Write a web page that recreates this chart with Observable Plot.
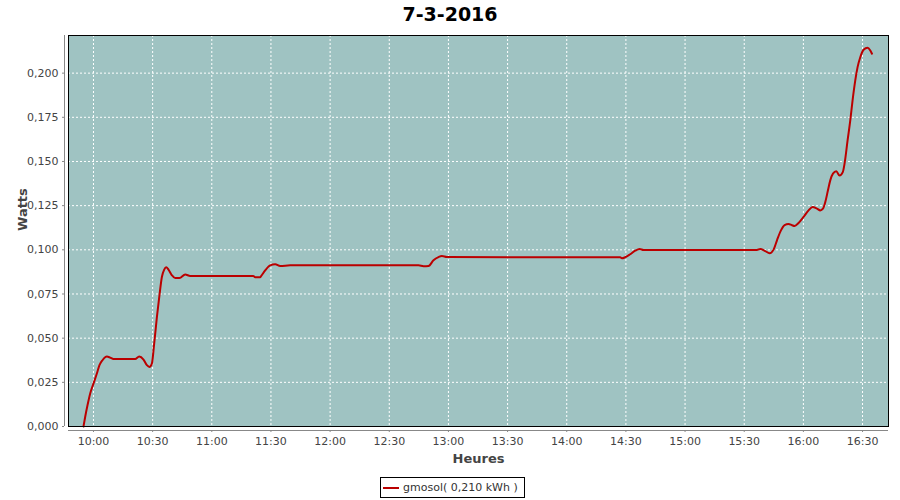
<!DOCTYPE html>
<html>
<head>
<meta charset="utf-8">
<script src="https://cdn.jsdelivr.net/npm/d3@7"></script>
<script src="https://cdn.jsdelivr.net/npm/@observablehq/plot@0.6"></script>
<style>
  body { margin: 0; background: #fff; font-family: "DejaVu Sans", sans-serif; }
  #wrap { position: relative; width: 900px; height: 500px; }
  #title { height: 30px; box-sizing: border-box; padding-top: 3px; line-height: 22px; font-size: 19px; font-weight: bold; text-align: center; color: #000; }
  #chart svg { display: block; }
  #legend { position: absolute; left: 380px; top: 477px; width: 145px; height: 21px; box-sizing: border-box; border: 1px solid #000; font-size: 11px; color: #333; display: flex; align-items: center; white-space: nowrap; }
  #legend svg { display: block; margin-left: 2px; margin-right: 4px; }
</style>
</head>
<body>
<div id="wrap">
  <div id="title">7-3-2016</div>
  <div id="chart"></div>
  <div id="legend"><svg width="16" height="4"><line x1="0" x2="16" y1="2" y2="2" stroke="#bb0000" stroke-width="2"/></svg><span id="legendText"></span></div>
</div>
<script>
// ---- data ----
const times = [
  "09:54:56","09:55:47","09:56:58","09:58:20","10:00:00","10:01:43","10:03:02","10:04:34","10:06:48","10:08:28",
  "10:10:08","10:21:09","10:23:11","10:25:22","10:27:05","10:28:24","10:29:37","10:30:47","10:32:10","10:33:28",
  "10:34:41","10:35:52","10:36:52","10:38:02","10:39:46","10:41:26","10:43:37","10:46:31","10:49:02","11:21:00",
  "11:22:00","11:24:30","11:25:04","11:27:05","11:29:37","11:32:10","11:34:41","11:39:46","12:44:50","12:47:22",
  "12:49:54","12:52:26","12:54:58","12:56:42","12:59:14","14:27:06","14:27:58","14:29:38","14:32:10","14:34:43",
  "14:36:55","14:38:56","15:36:28","15:38:08","15:40:40","15:42:51","15:44:53","15:46:37","15:48:38","15:50:28",
  "15:52:29","15:54:13","15:55:32","15:57:34","16:00:05","16:02:38","16:04:40","16:06:53","16:08:34","16:09:56",
  "16:11:06","16:12:28","16:13:38","16:15:00","16:16:41","16:18:21","16:19:59","16:20:53","16:22:25","16:23:47",
  "16:24:57","16:26:19","16:27:29","16:28:51","16:30:32","16:32:34","16:33:56","16:34:47"
];
const watts = [
  0.0000,0.0054,0.0120,0.0187,0.0243,0.0300,0.0347,0.0375,0.0396,0.0390,
  0.0382,0.0382,0.0396,0.0379,0.0347,0.0337,0.0356,0.0469,0.0620,0.0743,
  0.0846,0.0888,0.0901,0.0888,0.0856,0.0840,0.0840,0.0860,0.0852,0.0852,
  0.0845,0.0845,0.0852,0.0884,0.0912,0.0918,0.0908,0.0912,0.0912,0.0907,
  0.0908,0.0941,0.0959,0.0965,0.0959,0.0958,0.0952,0.0958,0.0975,0.0995,
  0.1005,0.0999,0.0999,0.1005,0.0993,0.0980,0.1001,0.1054,0.1110,0.1140,
  0.1146,0.1139,0.1135,0.1152,0.1186,0.1223,0.1242,0.1233,0.1223,0.1233,
  0.1270,0.1337,0.1393,0.1431,0.1444,0.1421,0.1440,0.1488,0.1619,0.1732,
  0.1846,0.1959,0.2034,0.2090,0.2132,0.2144,0.2128,0.2110
];
const xTickLabels = ["10:00","10:30","11:00","11:30","12:00","12:30","13:00","13:30","14:00","14:30","15:00","15:30","16:00","16:30"];
const yTicks = [0, 0.025, 0.05, 0.075, 0.1, 0.125, 0.15, 0.175, 0.2];
const xRange = ["09:47:20", "16:43:10"];
const yMax = 0.2213;
const titleText = "7-3-2016";
const seriesName = "gmosol( 0,210 kWh )";
const xLabel = "Heures";
const yLabel = "Watts";

// ---- build ----
const parse = s => {
  const [h, m, sec] = s.split(":").map(Number);
  return new Date(Date.UTC(2016, 2, 7, h, m, sec || 0));
};
const data = times.map((t, i) => ({time: parse(t), watts: watts[i]}));
const xTicks = xTickLabels.map(parse);
const xDomain = xRange.map(parse);
const fmtY = d => d3.format(".3f")(d).replace(".", ",");

document.getElementById("title").textContent = titleText;
document.getElementById("legendText").textContent = seriesName;

const chart = Plot.plot({
  width: 900,
  height: 440,
  marginTop: 5,
  marginBottom: 44,
  marginLeft: 68,
  marginRight: 12,
  style: {fontFamily: "DejaVu Sans", fontSize: "11px", color: "#444", background: "white"},
  x: {type: "utc", domain: xDomain},
  y: {domain: [0, yMax]},
  marks: [
    Plot.frame({fill: "#9fc3c2"}),
    Plot.gridX(xTicks, {stroke: "white", strokeOpacity: 1, strokeDasharray: "2,2"}),
    Plot.gridY(yTicks, {stroke: "white", strokeOpacity: 1, strokeDasharray: "2,2"}),
    Plot.line(data, {x: "time", y: "watts", stroke: "#bb0000", strokeWidth: 2, curve: "monotone-x"}),
    Plot.frame({stroke: "black"}),
    Plot.ruleX([xDomain[0]], {dx: -4, stroke: "#888"}),
    Plot.ruleY([0], {dy: 4, stroke: "#888"}),
    Plot.axisX(xTicks, {tickFormat: d3.utcFormat("%H:%M"), tickSize: 2, tickPadding: 5, dy: 4, stroke: "#888", fill: "#444", label: null}),
    Plot.axisY(yTicks, {tickFormat: fmtY, tickSize: 2, tickPadding: 4, dx: -4, stroke: "#888", fill: "#444", label: null}),
    Plot.text([xLabel], {frameAnchor: "bottom", dy: 36, fontWeight: "bold", fontSize: 13, fill: "#444"}),
    Plot.text([yLabel], {frameAnchor: "left", dx: -46, rotate: -90, fontWeight: "bold", fontSize: 13, fill: "#444"})
  ]
});
document.getElementById("chart").appendChild(chart);
</script>
</body>
</html>
